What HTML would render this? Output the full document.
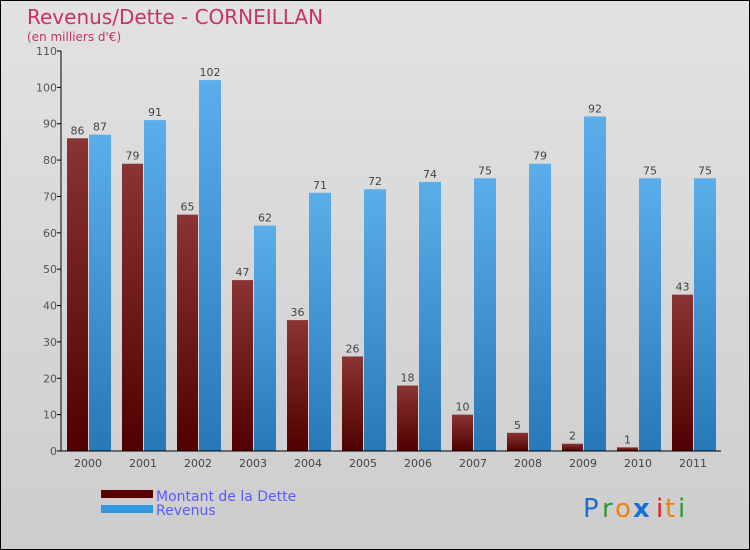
<!DOCTYPE html>
<html><head><meta charset="utf-8"><style>
body{margin:0}
#c{width:750px;height:550px;position:relative;background:linear-gradient(#e2e2e2,#cdcdcd);box-sizing:border-box;border:1px solid #000;font-family:"DejaVu Sans","Liberation Sans",sans-serif;overflow:hidden}
</style></head><body>
<div id="c">
<svg id="s" width="750" height="550" style="position:absolute;left:0;top:0">
<defs>
<linearGradient id="gd" x1="0" x2="0" y1="0" y2="1"><stop offset="0" stop-color="#8a3434"/><stop offset="1" stop-color="#500000"/></linearGradient>
<linearGradient id="gr" x1="0" x2="0" y1="0" y2="1"><stop offset="0" stop-color="#5aaeea"/><stop offset="1" stop-color="#2878b8"/></linearGradient>
</defs>
<text x="26" y="23" font-size="20" fill="#c8306a">Revenus/Dette - CORNEILLAN</text>
<text x="26" y="40" font-size="12" fill="#c8306a">(en milliers d'€)</text>
<g id="g"></g>
<rect x="100" y="489" width="52" height="8" fill="#5a0000"/>
<rect x="100" y="504" width="52" height="8" fill="#3398e0"/>
<text x="155" y="500" font-size="14" fill="#5a5aff">Montant de la Dette</text>
<text x="155" y="514" font-size="14" fill="#5a5aff">Revenus</text>
<g font-size="26" font-family="'DejaVu Sans',sans-serif">
<text x="582" y="516" fill="#1a6fd0">P</text><text x="601" y="516" fill="#2a9a3a">r</text><text x="614" y="516" fill="#f08010">o</text><text x="632" y="516" fill="#1a6fd0" font-weight="bold">x</text><text x="655" y="516" fill="#e02020">i</text><text x="664" y="516" fill="#f08010">t</text><text x="677" y="516" fill="#2a9a3a">i</text>
</g>
</svg>
</div>
<script>
const categories=["2000","2001","2002","2003","2004","2005","2006","2007","2008","2009","2010","2011"];
const dette=[86,79,65,47,36,26,18,10,5,2,1,43];
const revenus=[87,91,102,62,71,72,74,75,79,92,75,75];
const ticks=[0,10,20,30,40,50,60,70,80,90,100,110];
const NS="http://www.w3.org/2000/svg";
const g=document.getElementById('g');
const x0=60,step=55,yb=450,yt=50,ymax=110;
const y=v=>yb-(v/ymax)*(yb-yt);
function el(t,a,txt){const e=document.createElementNS(NS,t);for(const k in a)e.setAttribute(k,a[k]);if(txt!==undefined)e.textContent=txt;g.appendChild(e);return e;}
ticks.forEach(t=>{
 const l=el('line',{x1:x0-4,x2:x0,y1:y(t),y2:y(t),stroke:'#000'});
 
 
 const tx=el('text',{x:x0-4,y:y(t)+4,'font-size':11,fill:'#555','text-anchor':'end'},t);
 
 
});
categories.forEach((c,i)=>{
 const gx=x0+i*step;
 const b1=el('rect',{x:gx+6,y:y(dette[i]),width:21,height:yb-y(dette[i]),fill:'url(#gd)'});
 
 
 const b2=el('rect',{x:gx+28,y:y(revenus[i]),width:22,height:yb-y(revenus[i]),fill:'url(#gr)'});
 
 
 const v1=el('text',{x:gx+16.5,y:y(dette[i])-4,'font-size':11,fill:'#444','text-anchor':'middle'},dette[i]);
 
 
 const v2=el('text',{x:gx+39,y:y(revenus[i])-4,'font-size':11,fill:'#444','text-anchor':'middle'},revenus[i]);
 
 
 const xl=el('text',{x:gx+27,y:466,'font-size':11,fill:'#444','text-anchor':'middle'},c);
 
 
});
const ya=el('line',{x1:x0,x2:x0,y1:yt,y2:yb,stroke:'#000'});


const xa=el('line',{x1:x0-4,x2:x0+12*step,y1:yb,y2:yb,stroke:'#000'});


</script>
</body></html>
